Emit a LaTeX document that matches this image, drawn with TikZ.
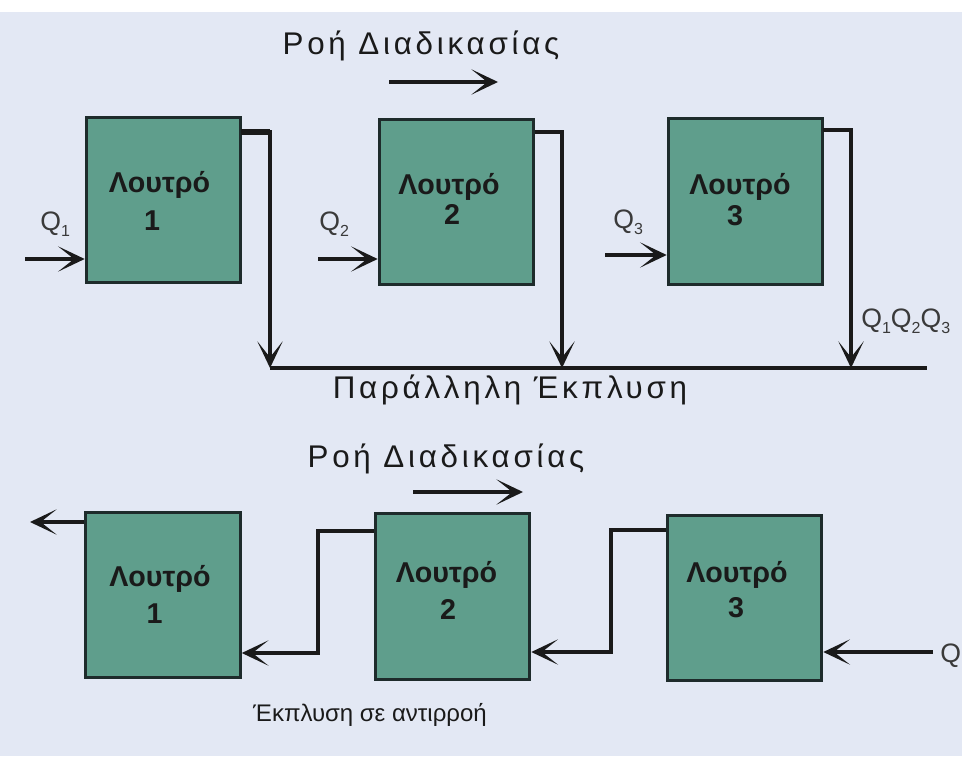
\documentclass[tikz,border=0pt]{standalone}
\usepackage{fontspec}
\setmainfont{Liberation Sans}
\newfontfamily\capfont[LetterSpace=12]{Liberation Sans}
\usetikzlibrary{arrows.meta,calc}
\definecolor{bg}{HTML}{E3E8F4}
\definecolor{tank}{HTML}{5F9E8C}
\definecolor{tankedge}{HTML}{1E2B2B}
\definecolor{ink}{HTML}{1A1A1A}
\definecolor{qink}{HTML}{3A3A3A}
% Q with a low-set index
\newcommand{\qsub}[1]{Q\raisebox{-0.45ex}{\fontsize{12}{12}\selectfont #1}}

\begin{document}
\begin{tikzpicture}[x=0.75pt,y=-0.75pt,
  tankbox/.style={draw=tankedge,line width=2.2pt,fill=tank,
    minimum width=116pt,minimum height=124pt,inner sep=0pt},
  tankword/.style={font=\bfseries\fontsize{21.5}{26}\selectfont,text=ink,anchor=base},
  flow/.style={draw=ink,line width=2.4pt,
    -{Stealth[length=20pt,width=19pt,inset=12pt]}},
  pipe/.style={draw=ink,line width=2.4pt},
  caption/.style={font=\capfont\fontsize{23.5}{27}\selectfont,text=ink,anchor=base},
  smallcaption/.style={font=\fontsize{18}{21}\selectfont,text=ink,anchor=base},
  qlabel/.style={font=\fontsize{20}{24}\selectfont,text=qink,anchor=base west,inner sep=0pt}
]
% canvas
\fill[white] (0,0) rectangle (962,756);
\fill[bg] (0,12) rectangle (962,756);
\useasboundingbox (0,0) rectangle (962,756);

% ---------- parallel rinsing ----------
\node[caption] (flowtop) at (421,55) {Ροή Διαδικασίας};
\coordinate (fa1) at (389,82);
\coordinate (fa2) at (498,82);
\draw[flow] (fa1) -- (fa2);

\node[tankbox] (t1) at (163.5,200) {};
\node[tankbox] (t2) at (456.5,202) {};
\node[tankbox] (t3) at (745.5,201.5) {};

\node[tankword] (t1w) at (159.5,192) {Λουτρό};
\node[tankword] (t1n) at (152,230) {1};
\node[tankword] (t2w) at (449,194) {Λουτρό};
\node[tankword] (t2n) at (452,224) {2};
\node[tankword] (t3w) at (740,194) {Λουτρό};
\node[tankword] (t3n) at (735,225) {3};

% feeds
\coordinate (q1) at (25,259);
\coordinate (q2) at (318,259);
\coordinate (q3) at (605,255);
\draw[flow] (q1) -- (q1 -| t1.west);
\draw[flow] (q2) -- (q2 -| t2.west);
\draw[flow] (q3) -- (q3 -| t3.west);
\node[qlabel] (q1t) at (40,230) {\qsub{1}};
\node[qlabel] (q2t) at (319,230) {\qsub{2}};
\node[qlabel] (q3t) at (613,228) {\qsub{3}};

% drains to the common collector
\coordinate (j1) at (270,368);
\coordinate (j2) at (562,368);
\coordinate (j3) at (851,368);
\coordinate (busend) at (927,368);
\coordinate (d1) at (241,132);
\coordinate (d2) at (535,132);
\coordinate (d3) at (823,130);
\draw[pipe] (j1) -- (busend);
\draw[pipe,line width=4.2pt] (d1) -- (d1 -| j1);
\draw[flow] (d1) -| (j1);
\draw[flow] (d2) -| (j2);
\draw[flow] (d3) -| (j3);
\node[qlabel] (qsum) at (861,327) {\qsub{1}\qsub{2}\qsub{3}};

\node[caption] (par) at (510,398) {Παράλληλη Έκπλυση};

% ---------- counter-current rinsing ----------
\node[caption] (flowbot) at (446,467) {Ροή Διαδικασίας};
\coordinate (fb1) at (413,492);
\coordinate (fb2) at (523,492);
\draw[flow] (fb1) -- (fb2);

\node[tankbox] (b1) at (163,595) {};
\node[tankbox] (b2) at (452.5,596.5) {};
\node[tankbox] (b3) at (744.5,598) {};

\node[tankword] (b1w) at (160,586) {Λουτρό};
\node[tankword] (b1n) at (154.5,623) {1};
\node[tankword] (b2w) at (446.5,582) {Λουτρό};
\node[tankword] (b2n) at (448,619) {2};
\node[tankword] (b3w) at (737,582) {Λουτρό};
\node[tankword] (b3n) at (736,617) {3};

\coordinate (out) at (30,522);
\coordinate (o2) at (373,531);
\coordinate (o3) at (666,530);
\coordinate (k1) at (318,653);
\coordinate (k2) at (611,652);
\coordinate (qs) at (933,652);
\draw[flow] (out -| b1.west) -- (out);
\draw[flow] (o2 -| b2.west) -| (k1) -- (k1 -| b1.east);
\draw[flow] (o3 -| b3.west) -| (k2) -- (k2 -| b2.east);
\draw[flow] (qs) -- (qs -| b3.east);
\node[qlabel] (qin) at (940,662) {Q};

\node[smallcaption] (counter) at (370,721) {Έκπλυση σε αντιρροή};
\end{tikzpicture}
\end{document}
